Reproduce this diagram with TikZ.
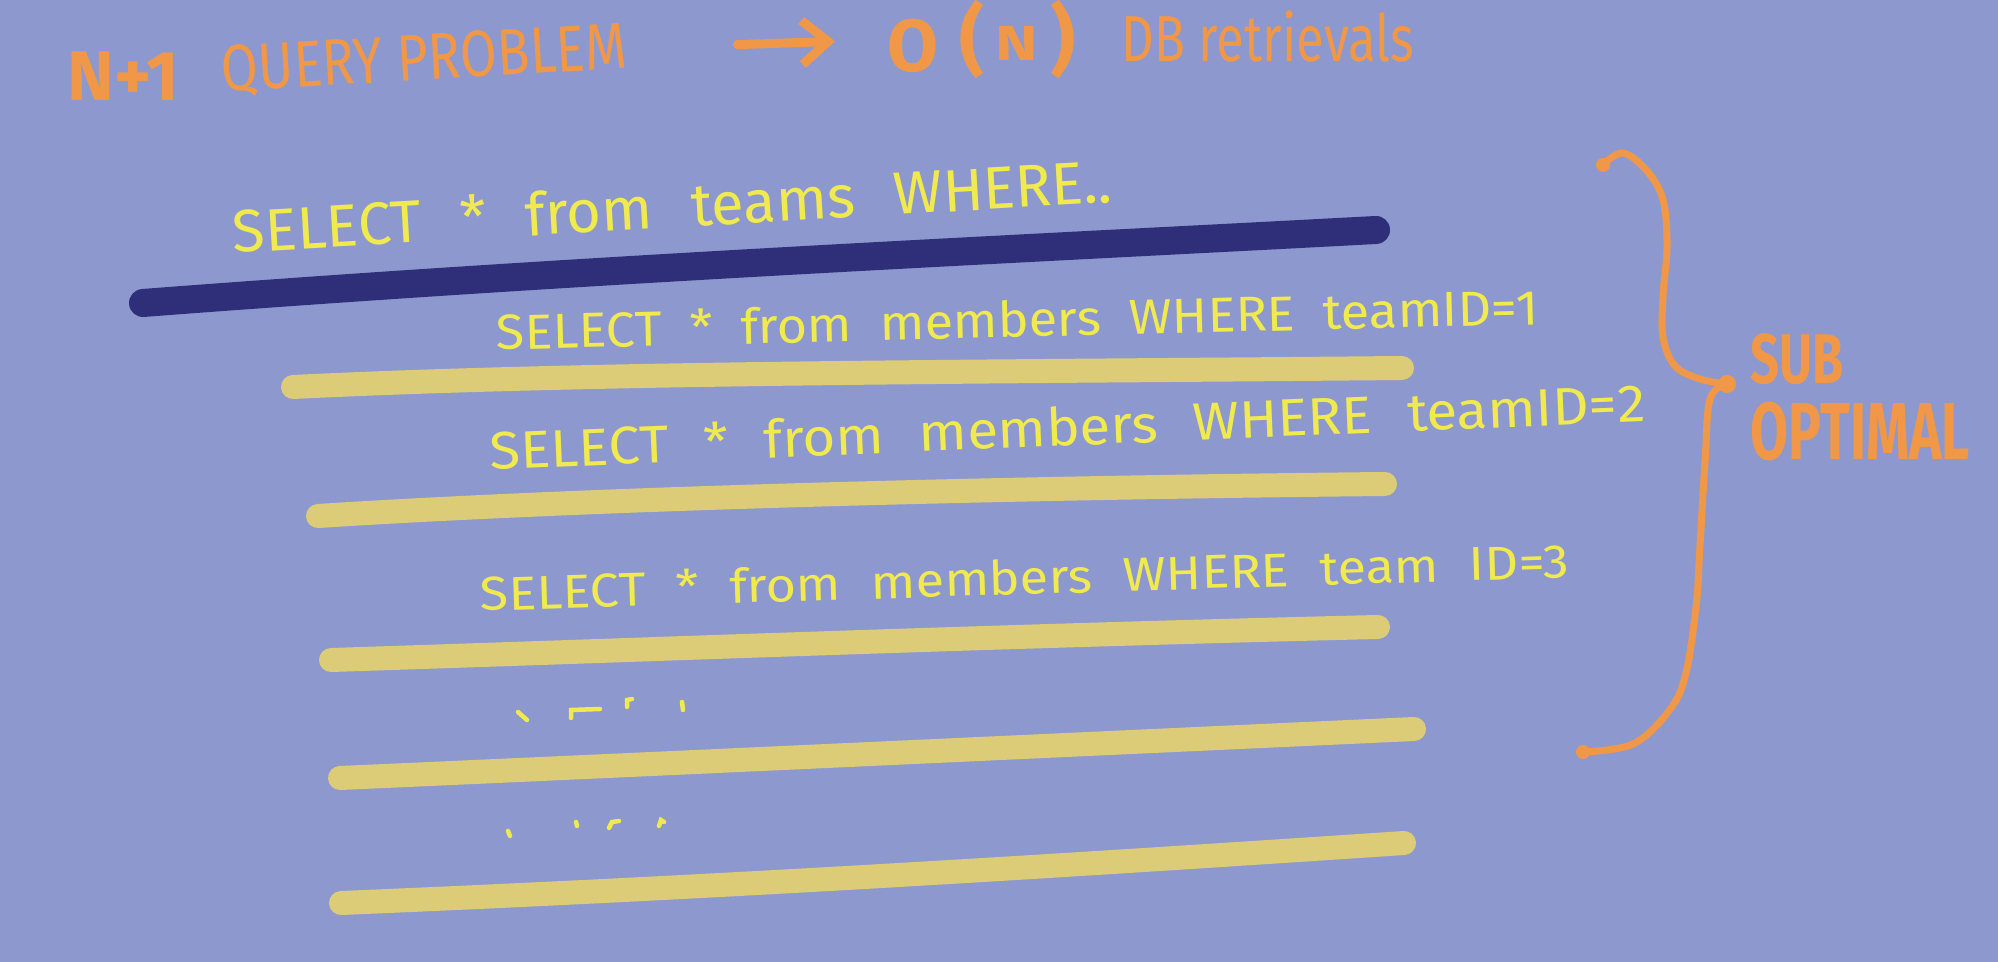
\documentclass[tikz,border=0pt]{standalone}
\usepackage{fontspec}
\setmainfont{Fira Sans}
\usetikzlibrary{arrows.meta,positioning}
\definecolor{board}{RGB}{140,152,206}
\definecolor{chalk}{RGB}{241,234,78}
\definecolor{marker}{RGB}{240,152,72}
\definecolor{hilite}{RGB}{220,204,120}
\definecolor{ink}{RGB}{46,47,120}
\newcommand{\fsz}[1]{\fontsize{#1}{#1}\selectfont}
\newcommand{\wsp}[1]{\spaceskip=#1\relax}
\tikzset{
  sql/.style     ={text=chalk, inner sep=0pt, anchor=base west},
  note/.style    ={text=marker, inner sep=0pt},
  verdict/.style ={text=marker, inner sep=0pt, font=\bfseries},
  hlstroke/.style={draw=hilite, line width=0.24cm, line cap=round},
  cut/.style     ={draw=ink, line width=0.28cm, line cap=round},
  brace/.style   ={draw=marker, line width=0.07cm, line cap=round,
                   line join=round},
  arr/.style     ={-{Straight Barb[length=2.6mm,width=4.4mm]},
                   draw=marker, line width=0.09cm, line cap=round},
  tick/.style    ={draw=chalk, line width=0.045cm, line cap=round},
}

\begin{document}
\begin{tikzpicture}[x=0.01cm,y=-0.01cm]
  \useasboundingbox (0,0) rectangle (1998,962);
  \fill[board] (0,0) rectangle (1998,962);
  % ---- heading
  \node[note, anchor=base west, font=\bfseries\fsz{20}] (nplus) at (67,101) {N+1};
  \node[note, anchor=base west, rotate=3.4, font=\fsz{18.6}\addfontfeature{FakeStretch=0.82}]
    (query) at (222,92) {QUERY PROBLEM};
  \node[note, anchor=base west, font=\bfseries] (bigo) at (887,72)
    {\fsz{21}O\hspace{6pt}\raisebox{1.5pt}{\fsz{22}(}\hspace{3pt}%
     \raisebox{3.4pt}{\fsz{14}\addfontfeature{FakeStretch=1.3}N}\hspace{3.5pt}%
     \raisebox{1.5pt}{\fsz{22})}};
  \node[note, anchor=base west, font=\fsz{18.5}\addfontfeature{FakeStretch=0.78}]
    (dbret) at (1121,62) {DB retrievals};
  \draw[arr, shorten <=1.1cm, shorten >=0.52cm] (query.east) -- (bigo.west);
  % ---- the one query for the teams, struck out
  \node[sql, rotate=3.3, font={\fsz{17}\wsp{11pt}}] (qt) at (233,253)
    {SELECT * from teams WHERE..};
  \draw[cut] (143,303) .. controls (600,268) and (1000,250) .. (1376,230);
  % ---- one query per team
  \node[sql, rotate=1.4, font={\fsz{14}\addfontfeature{FakeStretch=1.06}\wsp{8pt}}] (q1) at (496,350)
    {SELECT * from members WHERE teamID=1};
  \draw[hlstroke] (293,387) .. controls (600,372) and (1000,372) .. (1402,368);
  \node[sql, rotate=2.4, font={\fsz{15}\addfontfeature{FakeStretch=1.07}\wsp{10pt}}] (q2) at (490,470)
    {SELECT * from members WHERE teamID=2};
  \draw[hlstroke] (318,516) .. controls (600,498) and (1000,488) .. (1385,484);
  \node[sql, rotate=1.75, font={\fsz{13.5}\addfontfeature{FakeStretch=1.1}\wsp{8.7pt}}] (q3) at (480,611)
    {SELECT * from members WHERE team ID=3};
  \draw[hlstroke] (331,660) .. controls (700,648) and (1000,636) .. (1378,627);
  % ---- and so on
  \draw[tick] (518,712) -- (527,720);
  \draw[tick] (571,718) -- (571,710) -- (600,709);
  \draw[tick] (627,707) -- (627,700) -- (632,699);
  \draw[tick] (682,702) -- (683,710);
  \draw[hlstroke] (340,778) .. controls (700,762) and (1000,748) .. (1414,729);
  \draw[tick] (508,831) -- (510,836);
  \draw[tick] (576,822) -- (577,826);
  \draw[tick] (609,828) -- (612,822) -- (619,821);
  \draw[tick] (659,826) -- (661,820) -- (664,822);
  \draw[hlstroke] (341,903) .. controls (700,888) and (1000,870) .. (1404,843);
  % ---- brace
  \draw[brace] plot[smooth, tension=0.6] coordinates {(1603,165) (1623,153) (1647,171)
    (1663,200) (1667,246) (1663,296) (1663,337) (1675,366) (1700,379) (1727,384)};
  \draw[brace] plot[smooth, tension=0.6] coordinates {(1727,384) (1710,399) (1705,462)
    (1700,545) (1696,607) (1685,677) (1668,712) (1633,744) (1583,752)};
  \fill[marker] (1603,165) circle (7) (1727,384) circle (9) (1583,752) circle (7);
  \node[verdict, anchor=north west, font=\bfseries\fsz{20}\addfontfeature{FakeStretch=0.72}]
    (sub) at (1750,333) {SUB};
  \node[verdict, below=1.6mm of sub.south west, anchor=north west,
    font=\bfseries\fsz{23}\addfontfeature{FakeStretch=0.68}] (optimal) {OPTIMAL};
\end{tikzpicture}
\end{document}
